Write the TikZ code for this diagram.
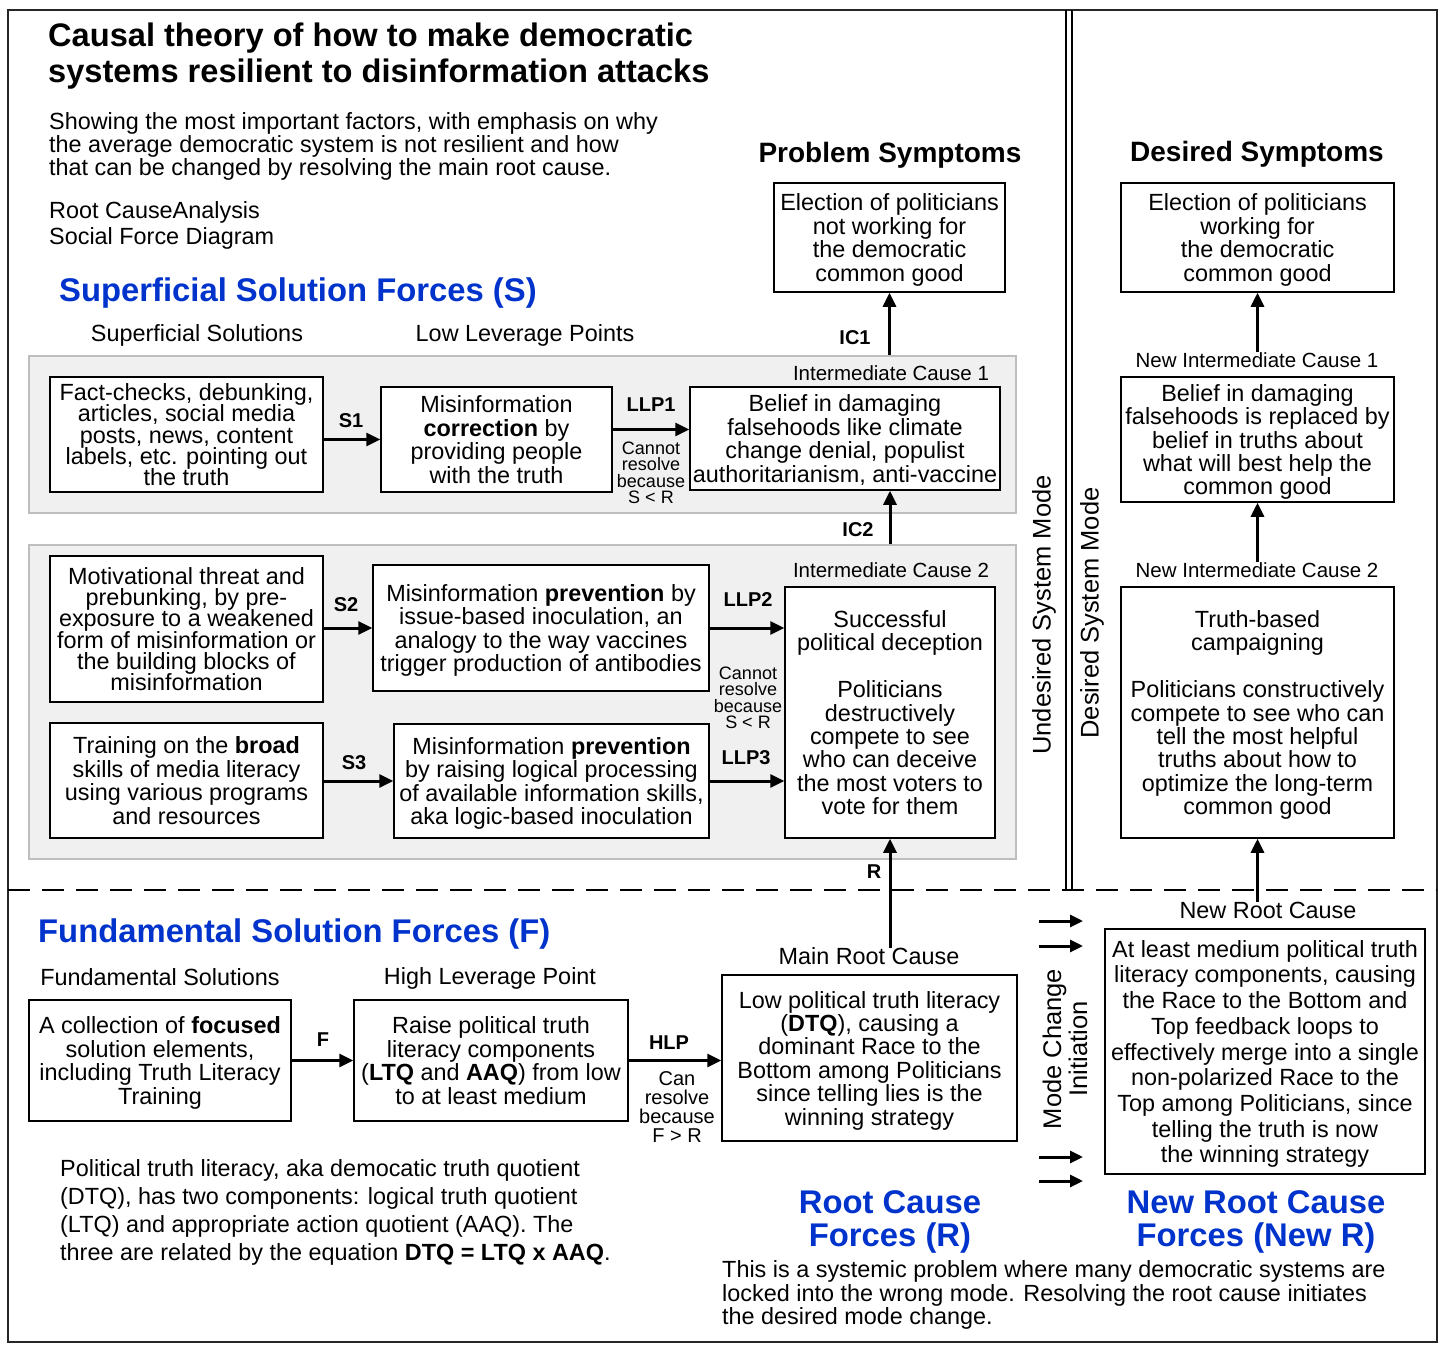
\documentclass[tikz,border=0pt]{standalone}
\usepackage{fontspec}
\setmainfont{Liberation Sans}
\usetikzlibrary{arrows.meta}
\definecolor{hblue}{RGB}{0,51,204}
\definecolor{panelgray}{RGB}{240,240,240}
\definecolor{panelline}{RGB}{190,190,190}
\newcommand\fsz[2]{\fontsize{#1}{#2}\selectfont\lineskiplimit=-50pt\lineskip=0pt\relax}
\newcommand\topst{\rule{0pt}{0.95em}}
\newcommand\botst{\rule[-0.22em]{0pt}{0.22em}}
\newcommand\bt[1]{\topst#1\botst}
\begin{document}
\begin{tikzpicture}[x=1pt,y=-1pt,
  box/.style={draw=black, line width=1.5pt, fill=white, align=center, inner sep=0pt,
    font=\fsz{23.4}{23.4}},
  panel/.style={draw=panelline, fill=panelgray, line width=1.5pt, inner sep=0pt},
  lab/.style={font=\fsz{23.4}{23}, inner sep=0pt, align=center, yshift=-1.5pt},
  small/.style={font=\fsz{20.5}{20.5}, inner sep=0pt, yshift=-1pt},
  elab/.style={font=\fsz{20}{20}\bfseries, inner sep=0pt},
  why/.style={font=\fsz{18}{16.5}, inner sep=0pt, align=center, yshift=-1pt},
  head/.style={font=\fsz{32.8}{33}\bfseries, text=hblue, inner sep=0pt, align=center, yshift=-3pt},
  blk/.style={anchor=west, inner sep=0pt, align=left, yshift=-3pt},
  arr/.style={line width=3pt, -{Triangle[length=14pt,width=13pt]}},
  marr/.style={line width=3pt, -{Triangle[length=13pt,width=12pt]}},
  vtext/.style={rotate=90, font=\fsz{25.5}{26}, inner sep=0pt, align=center, xshift=2pt},
]
\useasboundingbox (0,0) rectangle (1442,1349);
\fill[white] (0,0) rectangle (1442,1349);

% frame, mode separators
\draw[line width=2pt, black!85] (8,10) rectangle (1437,1342);
\draw[line width=1.6pt, dash pattern=on 22pt off 12pt] (8,890) -- (1437,890);
\draw[line width=2pt] (1066,10) -- (1066,890);
\draw[line width=2pt] (1072,10) -- (1072,890);

% title block
\node[blk, font=\fsz{32.6}{36}\bfseries] (title) at (48,53)
  {Causal theory of how to make democratic\\systems resilient to disinformation attacks};
\node[blk, font=\fsz{23.4}{23}] (sub) at (49,143)
  {Showing the most important factors, with emphasis on why\\the average democratic system is not resilient and how\\that can be changed by resolving the main root cause.};
\node[blk, font=\fsz{23.4}{26}] (rca) at (49,222)
  {Root CauseAnalysis\\Social Force Diagram};

\node[head, anchor=west] (shead) at (59,290) {Superficial Solution Forces (S)};
\node[lab] (sslab) at (197,334) {Superficial Solutions};
\node[lab] (llplab) at (525,334) {Low Leverage Points};

% panels
\node[panel, minimum width=987pt, minimum height=157pt] (p1) at (522.5,434.5) {};
\node[panel, minimum width=987pt, minimum height=314pt] (p2) at (522.5,702) {};

% problem side
\node[font=\fsz{28}{28}\bfseries, inner sep=0pt, yshift=-3pt] (pshead) at (890,152) {Problem Symptoms};
\node[box, minimum width=231pt, minimum height=109pt] (ps) at (889.5,237.5)
  {\bt{Election of politicians\\not working for\\the democratic\\common good}};

\node[small] (ic1lab) at (891,372) {Intermediate Cause 1};
\node[box, minimum width=273pt, minimum height=115pt, font=\fsz{23.4}{21.2}] (s1) at (186.5,434.5)
  {\bt{Fact-checks, debunking,\\articles, social media\\posts, news, content\\labels, etc. pointing out\\the truth}};
\node[box, minimum width=231pt, minimum height=105pt] (llp1) at (496.5,439.5)
  {\bt{Misinformation\\\textbf{correction} by\\providing people\\with the truth}};
\node[box, minimum width=310pt, minimum height=103pt] (ic1) at (845,438.5)
  {\bt{Belief in damaging\\falsehoods like climate\\change denial, populist\\authoritarianism, anti-vaccine}};

\node[small] (ic2lab) at (891,569) {Intermediate Cause 2};
\node[box, minimum width=273pt, minimum height=146pt, font=\fsz{23.4}{21.2}] (s2) at (186.5,629)
  {\bt{Motivational threat and\\prebunking, by pre-\\exposure to a weakened\\form of misinformation or\\the building blocks of\\misinformation}};
\node[box, minimum width=336pt, minimum height=126pt] (s2m) at (541,628)
  {\bt{Misinformation \textbf{prevention} by\\issue-based inoculation, an\\analogy to the way vaccines\\trigger production of antibodies}};
\node[box, minimum width=273pt, minimum height=115pt] (s3) at (186.5,780.5)
  {\bt{Training on the \textbf{broad}\\skills of media literacy\\using various programs\\and resources}};
\node[box, minimum width=315pt, minimum height=114pt] (s3m) at (551.5,781)
  {\bt{Misinformation \textbf{prevention}\\by raising logical processing\\of available information skills,\\aka logic-based inoculation}};
\node[box, minimum width=210pt, minimum height=251pt] (ic2) at (890,712.5)
  {\bt{Successful\\political deception\\[23.4pt]Politicians\\destructively\\compete to see\\who can deceive\\the most voters to\\vote for them}};

% arrows in superficial part
\draw[arr] (s1.east |- llp1) -- (llp1.west);
\draw[arr] ([yshift=10pt]llp1.east) -- ([yshift=10pt]llp1.east -| ic1.west);
\draw[arr] (s2.east |- s2m) -- (s2m.west);
\draw[arr] (s2m.east) -- (s2m.east -| ic2.west);
\draw[arr] (s3.east |- s3m) -- (s3m.west);
\draw[arr] (s3m.east) -- (s3m.east -| ic2.west);
\draw[arr] (ps.south |- p1.north) -- (ps.south);
\draw[arr] (ic2.north |- p2.north) -- (ic2.north |- ic1.south);

\node[elab] (ls1) at (351,421) {S1};
\node[elab] (ls2) at (346,605) {S2};
\node[elab] (ls3) at (354,763) {S3};
\node[elab] (lllp1) at (651,405) {LLP1};
\node[elab] (lllp2) at (748,600) {LLP2};
\node[elab] (lllp3) at (746,758) {LLP3};
\node[elab] (lic1) at (855,338) {IC1};
\node[elab] (lic2) at (858,530) {IC2};
\node[why] (why1) at (651,472) {Cannot\\resolve\\because\\S < R};
\node[why] (why2) at (748,697) {Cannot\\resolve\\because\\S < R};

% desired side
\node[font=\fsz{28}{28}\bfseries, inner sep=0pt, yshift=-3pt] (dshead) at (1257,151) {Desired Symptoms};
\node[box, minimum width=273pt, minimum height=109pt] (ds) at (1257.5,237.5)
  {\bt{Election of politicians\\working for\\the democratic\\common good}};
\node[small] (nic1lab) at (1257,359) {New Intermediate Cause 1};
\node[box, minimum width=273pt, minimum height=125pt] (nic1) at (1257.5,439.5)
  {\bt{Belief in damaging\\falsehoods is replaced by\\belief in truths about\\what will best help the\\common good}};
\node[small] (nic2lab) at (1257,569) {New Intermediate Cause 2};
\node[box, minimum width=273pt, minimum height=251pt] (nic2) at (1257.5,712.5)
  {\bt{Truth-based\\campaigning\\[23.4pt]Politicians constructively\\compete to see who can\\tell the most helpful\\truths about how to\\optimize the long-term\\common good}};
\draw[arr] (ds.south |- nic1lab.north) -- (ds.south);
\draw[arr] (nic1.south |- nic2lab.north) -- (nic1.south);

\node[vtext] (undes) at (1044,617) {Undesired System Mode};
\node[vtext] (des) at (1092,615) {Desired System Mode};

% fundamental part
\node[head, anchor=west] (fhead) at (38,931) {Fundamental Solution Forces (F)};
\node[lab] (fslab) at (160,976) {Fundamental Solutions};
\node[lab] (hlplab) at (490,977) {High Leverage Point};
\node[box, minimum width=262pt, minimum height=121pt] (f) at (160,1060.5)
  {\bt{A collection of \textbf{focused}\\solution elements,\\including Truth Literacy\\Training}};
\node[box, minimum width=274pt, minimum height=121pt] (hlp) at (491,1060.5)
  {\bt{Raise political truth\\literacy components\\(\textbf{LTQ} and \textbf{AAQ}) from low\\to at least medium}};
\node[lab] (rclab) at (869,955) {Main Root Cause};
\node[box, minimum width=295pt, minimum height=166pt] (rc) at (869.5,1058)
  {\bt{Low political truth literacy\\(\textbf{DTQ}), causing a\\dominant Race to the\\Bottom among Politicians\\since telling lies is the\\winning strategy}};
\node[lab] (nrclab) at (1268,909) {New Root Cause};
\node[box, minimum width=320pt, minimum height=245pt, font=\fsz{23.4}{25.7}] (nrc) at (1265,1051.5)
  {\bt{At least medium political truth\\literacy components, causing\\the Race to the Bottom and\\Top feedback loops to\\effectively merge into a single\\non-polarized Race to the\\Top among Politicians, since\\telling the truth is now\\the winning strategy}};

\draw[arr] (f.east |- hlp) -- (hlp.west);
\draw[arr] (hlp.east) -- (hlp.east -| rc.west);
\draw[arr] (ic2.south |- rclab.north) -- (ic2.south);
\draw[arr] (nic2.south |- nrclab.north) -- (nic2.south);

\node[elab] (lf) at (323,1040) {F};
\node[elab] (lhlp) at (669,1043) {HLP};
\node[elab] (lr) at (874,872) {R};
\node[why, font=\fsz{20}{19}] (why3) at (677,1106) {Can\\resolve\\because\\F > R};

% mode change
\node[vtext] (mci) at (1065,1051) {Mode Change\\Initiation};
\coordinate (ma1) at (1039,921); \coordinate (mb1) at (1083,921);
\coordinate (ma2) at (1039,946); \coordinate (mb2) at (1083,946);
\coordinate (ma3) at (1039,1157); \coordinate (mb3) at (1083,1157);
\coordinate (ma4) at (1039,1181); \coordinate (mb4) at (1083,1181);
\draw[marr] (ma1) -- (mb1);
\draw[marr] (ma2) -- (mb2);
\draw[marr] (ma3) -- (mb3);
\draw[marr] (ma4) -- (mb4);

\node[head] (rhead) at (890,1219) {Root Cause\\Forces (R)};
\node[head] (nrhead) at (1256,1219) {New Root Cause\\Forces (New R)};

\node[blk, font=\fsz{23.4}{23.5}] (sys) at (722,1292)
  {This is a systemic problem where many democratic systems are\\locked into the wrong mode. Resolving the root cause initiates\\the desired mode change.};
\node[blk, font=\fsz{23.4}{28}] (dtq) at (60,1209)
  {Political truth literacy, aka democatic truth quotient\\(DTQ), has two components: logical truth quotient\\(LTQ) and appropriate action quotient (AAQ). The\\three are related by the equation \textbf{DTQ = LTQ x AAQ}.};
\end{tikzpicture}
\end{document}
